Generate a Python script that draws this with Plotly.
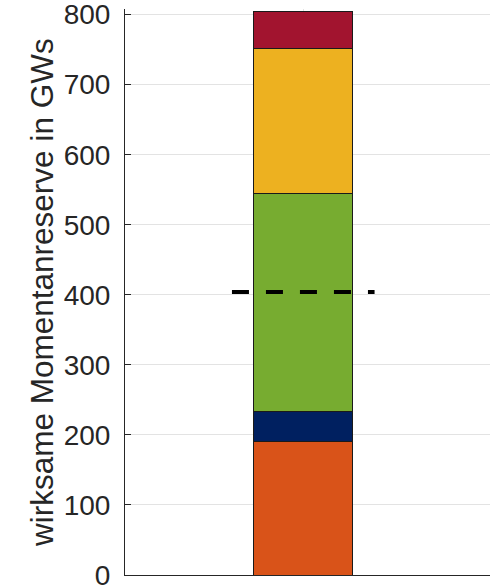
import plotly.graph_objects as go

# Data (stacked segment heights, bottom to top)
segment_names = ["Segment 1", "Segment 2", "Segment 3", "Segment 4", "Segment 5"]
segment_values = [190, 43, 311, 208, 52]
segment_colors = ["#D95319", "#002060", "#77AC30", "#EDB120", "#A2142F"]
threshold_value = 404
y_tick_values = [0, 100, 200, 300, 400, 500, 600, 700, 800]
y_title = "wirksame Momentanreserve in GWs"

BAR_X = 1
BAR_WIDTH = 0.278

fig = go.Figure()
for name, val, col in zip(segment_names, segment_values, segment_colors):
    fig.add_trace(go.Bar(
        x=[BAR_X], y=[val], name=name, width=BAR_WIDTH,
        marker=dict(color=col, line=dict(color="#1a1a1a", width=1)),
        showlegend=False, hoverinfo="y",
    ))

fig.add_trace(go.Scatter(
    x=[0.8, 1.2], y=[threshold_value, threshold_value], mode="lines",
    line=dict(color="black", width=4, dash="17px,17px"),
    showlegend=False, hoverinfo="skip",
))

fig.update_layout(
    barmode="stack",
    width=490, height=586,
    margin=dict(l=125, r=0, t=9, b=11, autoexpand=False),
    paper_bgcolor="white", plot_bgcolor="white",
    font=dict(family="Liberation Sans, Arial, sans-serif", color="#262626"),
    annotations=[dict(
        text=y_title, textangle=-90, showarrow=False,
        xref="paper", yref="paper", x=-0.2274, y=0.5,
        xanchor="center", yanchor="middle",
        font=dict(size=31.5, color="#262626"),
    )],
)
fig.update_xaxes(
    range=[0.5, 1.5238], tickvals=[BAR_X], showticklabels=False,
    showgrid=True, gridcolor="#e3e3e3", gridwidth=1,
    showline=True, linecolor="#262626", linewidth=1,
    ticks="", zeroline=False, automargin=False,
)
fig.update_yaxes(
    range=[0, 808], tickvals=y_tick_values,
    showgrid=True, gridcolor="#e3e3e3", gridwidth=1,
    showline=True, linecolor="#262626", linewidth=1,
    ticks="inside", ticklen=6, tickcolor="#262626", tickwidth=1,
    tickfont=dict(size=28, color="#262626"),
    ticklabelstandoff=8, ticklabeloverflow="allow",
    zeroline=False, automargin=False,
)

fig.write_html(
    "out.html",
    config={"displayModeBar": False},
    post_script="document.body.style.margin='0';document.body.style.overflow='hidden';",
)
